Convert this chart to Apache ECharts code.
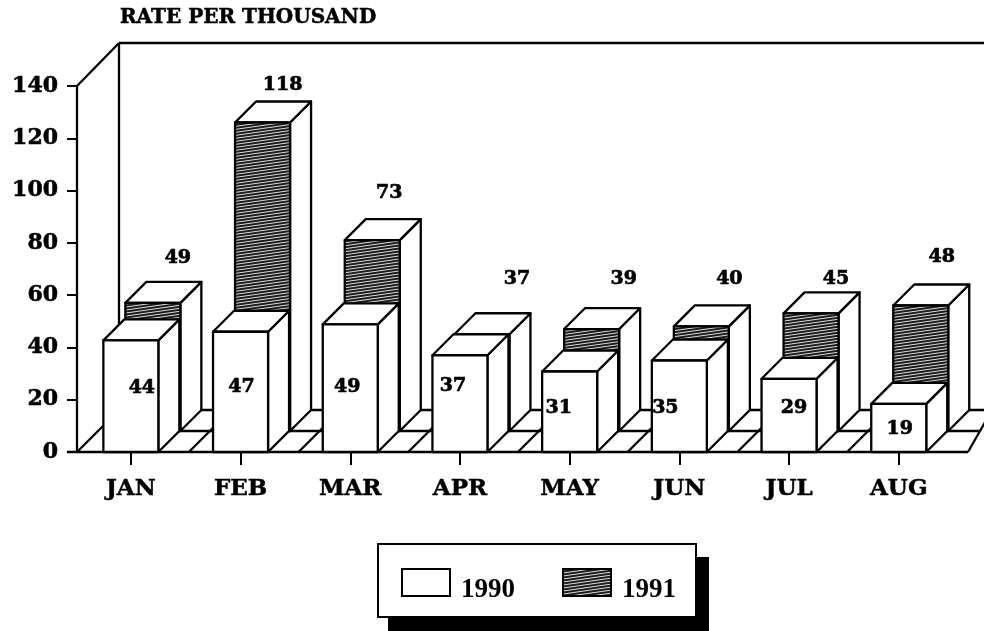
<!DOCTYPE html>
<html>
<head>
<meta charset="utf-8">
<script src="https://cdn.jsdelivr.net/npm/echarts@6/dist/echarts.min.js"></script>
<style>html,body{margin:0;padding:0;background:#fff;}</style>
</head>
<body>
<div id="main" style="width: 984px;height:631px;"></div>
<script type="text/javascript">
var months = ['JAN', 'FEB', 'MAR', 'APR', 'MAY', 'JUN', 'JUL', 'AUG'];
var yTicks = [0, 20, 40, 60, 80, 100, 120, 140];
// printed values
var labels1990 = [44, 47, 49, 37, 31, 35, 29, 19];
var values1991 = [49, 118, 73, 37, 39, 40, 45, 48];
// the front bars are drawn a little shorter than their printed value
var heights1990 = [42.7, 46, 48.8, 37, 30.8, 35, 28, 18.4];

// where the printed numbers sit, pixels from the foot of the front bar
var labelShift1990 = [[11, -64], [1, -65], [-3, -65], [-7, -66], [-11, -44], [-14, -44], [5, -44], [1, -23]];
var labelShift1991 = [[47, -194], [42, -367], [39, -259], [57, -173], [54, -173], [50, -173], [47, -173], [43, -195]];

var FONT = '"DejaVu Serif", serif';
var BAR_W = 55;
var DEPTH = 21;     // one bar deep, in x and y
var STROKE = 2.3;

// scan line fill of the 1991 bars
function makeHatch() {
    var c = document.createElement('canvas');
    c.width = 42;
    c.height = 21;
    var ctx = c.getContext('2d');
    ctx.fillStyle = '#1c1c1c';
    ctx.fillRect(0, 0, 42, 21);
    ctx.strokeStyle = '#f0f0f0';
    ctx.lineWidth = 0.9;
    for (var y = -14; y < 35; y += 3) {
        ctx.beginPath();
        ctx.moveTo(0, y + 6);
        ctx.lineTo(42, y);
        ctx.stroke();
    }
    return c;
}
var hatch = { image: makeHatch(), repeat: 'repeat' };

function line(x1, y1, x2, y2) {
    return {
        type: 'line',
        shape: { x1: x1, y1: y1, x2: x2, y2: y2 },
        style: { stroke: '#000', lineWidth: STROKE, fill: null }
    };
}

function face(points, fill) {
    return {
        type: 'polygon',
        shape: { points: points },
        style: { fill: fill, stroke: '#000', lineWidth: STROKE, lineJoin: 'round' }
    };
}

function numberText(txt, x, y) {
    return {
        type: 'text',
        style: {
            text: String(txt), x: x, y: y,
            fill: '#000',
            stroke: '#000', lineWidth: 0.7,
            fontFamily: FONT, fontWeight: 'bold', fontSize: 19,
            align: 'center', verticalAlign: 'middle'
        }
    };
}

function box(x, base, top, fill) {
    var r = x + BAR_W;
    return [
        face([[r, base], [r + DEPTH, base - DEPTH], [r + DEPTH, top - DEPTH], [r, top]], '#fff'),
        face([[x, top], [x + DEPTH, top - DEPTH], [r + DEPTH, top - DEPTH], [r, top]], '#fff'),
        face([[x, base], [r, base], [r, top], [x, top]], fill)
    ];
}

// walls and floor
function renderFrame(params, api) {
    var p0 = api.coord([0, 0]);
    var pTop = api.coord([0, 140]);
    var left = 77;
    var base = p0[1];
    var kids = [
        line(left, pTop[1], left + 42, pTop[1] - 43),
        line(left + 42, pTop[1] - 43, 984, pTop[1] - 43),
        line(left, pTop[1], left, base),
        line(left + 42, pTop[1] - 43, left + 42, base - 42),
        line(67, base, 968, base),
        line(left, base, left + 26, base - 26),
        line(103, base - 21, 980, base - 21),
        line(left + 42, base - 42, 992, base - 42)
    ];
    for (var i = 0; i < months.length - 1; i++) {
        var x = api.coord([i, 0])[0] + 58;
        kids.push(line(x, base, x + 42, base - 42));
    }
    kids.push(line(968, base, 992, base - 42));
    return { type: 'group', children: kids };
}

function render1991(params, api) {
    var i = api.value(0);
    var foot = api.coord([i, 0]);
    var top = api.coord([i, api.value(1)]);
    var rise = 21;
    var kids = box(foot[0] - BAR_W / 2 + 22, foot[1] - rise, top[1] - rise, hatch);
    kids.push(numberText(values1991[i], foot[0] + labelShift1991[i][0], foot[1] + labelShift1991[i][1]));
    return { type: 'group', children: kids };
}

function render1990(params, api) {
    var i = api.value(0);
    var foot = api.coord([i, 0]);
    var top = api.coord([i, api.value(1)]);
    var kids = box(foot[0] - BAR_W / 2, foot[1], top[1], '#fff');
    kids.push(numberText(labels1990[i], foot[0] + labelShift1990[i][0], foot[1] + labelShift1990[i][1]));
    return { type: 'group', children: kids };
}

var myChart = echarts.init(document.getElementById('main'));

var option = {
    animation: false,
    title: {
        text: 'RATE PER THOUSAND',
        left: 120,
        top: 8,
        padding: 0,
        textStyle: { fontFamily: FONT, fontWeight: 'bold', fontSize: 20, color: '#000', textBorderColor: '#000', textBorderWidth: 0.5 }
    },
    // drop shadow of the legend box
    graphic: [{
        type: 'rect',
        z: 1,
        shape: { x: 388, y: 557, width: 321, height: 74 },
        style: { fill: '#000' }
    }],
    legend: {
        left: 378,
        top: 544,
        padding: [24, 20, 13, 23],
        orient: 'horizontal',
        icon: 'rect',
        data: ['1990', '1991'],
        itemWidth: 48,
        itemHeight: 27,
        itemGap: 47,
        backgroundColor: '#fff',
        borderColor: '#000',
        borderWidth: 2,
        selectedMode: false,
        itemStyle: { borderColor: '#000', borderWidth: 2 },
        formatter: '{a|{name}}',
        textStyle: {
            rich: {
                a: { fontFamily: '"Liberation Serif", serif', fontWeight: 'bold', fontSize: 27, color: '#000', padding: [16, 0, 0, 6] }
            }
        }
    },
    grid: { left: 76, top: 86, width: 877.6, height: 366 },
    xAxis: {
        type: 'category',
        data: months,
        axisLine: { lineStyle: { color: '#000', width: 2 } },
        axisTick: { show: true, alignWithLabel: true, length: 13, lineStyle: { color: '#000', width: 2 } },
        axisLabel: { margin: 26, fontFamily: FONT, fontWeight: 'bold', fontSize: 23, color: '#000', textBorderColor: '#000', textBorderWidth: 0.5 }
    },
    yAxis: {
        type: 'value',
        min: yTicks[0],
        max: yTicks[yTicks.length - 1],
        interval: 20,
        offset: -1,
        splitLine: { show: false },
        axisLine: { show: true, lineStyle: { color: '#000', width: 2 } },
        axisTick: { show: true, length: 10, lineStyle: { color: '#000', width: 2 } },
        axisLabel: { margin: 19, fontFamily: FONT, fontWeight: 'bold', fontSize: 22, color: '#000', textBorderColor: '#000', textBorderWidth: 0.6 }
    },
    series: [
        {
            name: 'frame',
            type: 'custom',
            silent: true,
            renderItem: renderFrame,
            data: [[0, 0]]
        },
        {
            name: '1991',
            type: 'custom',
            renderItem: render1991,
            itemStyle: { color: hatch },
            encode: { x: 0, y: 1 },
            data: values1991.map(function (v, i) { return [i, v]; })
        },
        {
            name: '1990',
            type: 'custom',
            renderItem: render1990,
            itemStyle: { color: '#fff' },
            encode: { x: 0, y: 1 },
            data: heights1990.map(function (v, i) { return [i, v]; })
        }
    ]
};

myChart.setOption(option);
</script>
</body>
</html>
